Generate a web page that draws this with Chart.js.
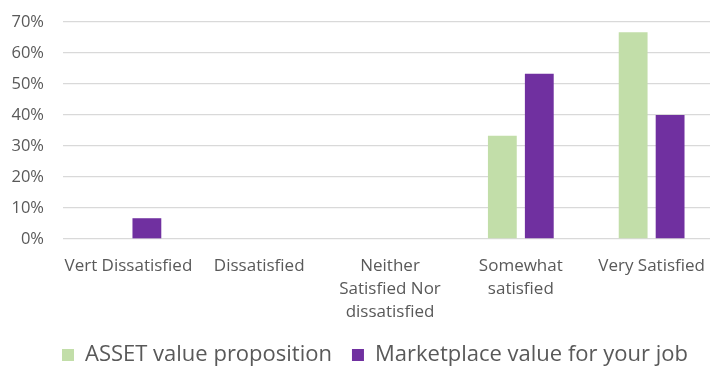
<!DOCTYPE html>
<html>
<head>
<meta charset="utf-8">
<script src="https://cdn.jsdelivr.net/npm/chart.js@4/dist/chart.umd.min.js"></script>
<style>
  html, body { margin: 0; padding: 0; background: #fff; overflow: hidden; }
  #wrap { width: 720px; height: 367px; }
</style>
</head>
<body>
<div id="wrap"><canvas id="c" width="720" height="367"></canvas></div>
<script>
// Satisfaction categories (multi-line labels)
const categories = [
  'Vert Dissatisfied',
  'Dissatisfied',
  ['Neither', 'Satisfied Nor', 'dissatisfied'],
  ['Somewhat', 'satisfied'],
  'Very Satisfied'
];
// Share of respondents, in percent
const assetValues = [0, 0, 0, 33.3, 66.7];
const marketplaceValues = [6.7, 0, 0, 53.3, 40.0];
// Y axis tick range
const yTicks = { min: 0, max: 70, step: 10 };

const FONT = "'Open Sans', Lato, sans-serif";
const TEXT = '#595959';

// Places the legend row under the axis labels, starting in line with the plot
const legendPlacement = {
  id: 'legendPlacement',
  afterLayout(chart) {
    const lg = chart.legend;
    if (!lg) return;
    lg.left = 42;
    lg.right = 2000;
    lg.top = 324;
    lg.options.labels.padding = 20;
  }
};

new Chart(document.getElementById('c'), {
  type: 'bar',
  data: {
    labels: categories,
    datasets: [
      {
        label: 'ASSET value proposition',
        data: assetValues,
        backgroundColor: '#c2dea9',
        categoryPercentage: 0.565,
        barPercentage: 0.78
      },
      {
        label: 'Marketplace value for your job',
        data: marketplaceValues,
        backgroundColor: '#7030a0',
        categoryPercentage: 0.565,
        barPercentage: 0.78
      }
    ]
  },
  plugins: [legendPlacement],
  options: {
    responsive: false,
    animation: false,
    layout: { autoPadding: false, padding: { top: 22, left: 0, right: 0, bottom: 0 } },
    plugins: {
      tooltip: { enabled: false },
      legend: {
        position: 'bottom',
        align: 'start',
        labels: {
          color: TEXT,
          font: { family: FONT, size: 22, lineHeight: 1.0 },
          boxWidth: 12,
          boxHeight: 12,
          padding: 8
        }
      }
    },
    scales: {
      x: {
        grid: { display: false, drawTicks: false },
        border: { display: false },
        ticks: {
          color: TEXT,
          font: { family: FONT, size: 17, lineHeight: 1.38 },
          maxRotation: 0,
          autoSkip: false,
          padding: 15
        },
        afterFit: s => { s.height = 88; }
      },
      y: {
        min: yTicks.min,
        max: yTicks.max,
        border: { display: false },
        grid: { color: '#d9d9d9', lineWidth: 1.3, drawTicks: false },
        ticks: {
          stepSize: yTicks.step,
          color: TEXT,
          font: { family: FONT, size: 16.5 },
          padding: 19,
          callback: v => v + '%'
        },
        afterFit: s => {
          s.width = 63;
          s.paddingTop = 0;
          s.paddingBottom = 0;
        }
      }
    }
  }
});
</script>
</body>
</html>
